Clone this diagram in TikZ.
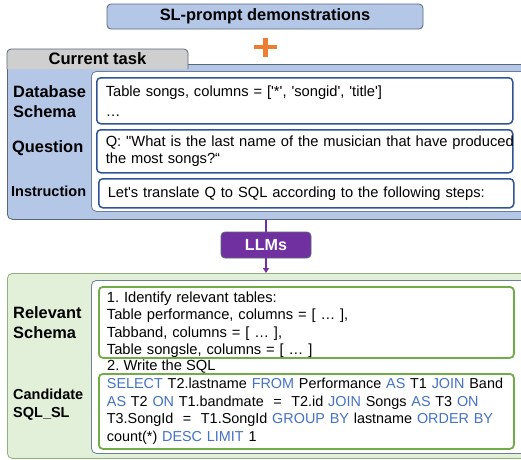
\documentclass[tikz,border=0pt]{standalone}
\usepackage{fontspec}
\setmainfont{Liberation Sans}[Ligatures=TeXOff]
\usetikzlibrary{arrows.meta}
\definecolor{bluefill}{HTML}{B4C7E7}
\definecolor{blueborder}{HTML}{2F5597}
\definecolor{grayborder}{HTML}{5B6778}
\definecolor{innerborder}{HTML}{6D7E99}
\definecolor{orangeplus}{HTML}{ED7D31}
\definecolor{purplefill}{HTML}{7030A0}
\definecolor{greenfill}{HTML}{E2F0D9}
\definecolor{greenframe}{HTML}{8FB07A}
\definecolor{greenborder}{HTML}{70AD47}
\definecolor{kw}{HTML}{4472C4}
\newcommand{\kwd}[1]{\textcolor{kw}{#1}}
\frenchspacing
\hbadness=10000 \hfuzz=100pt
\begin{document}
\begin{tikzpicture}[x=1pt,y=-1pt,
  body/.style={font=\fontsize{14.7}{17.4}\selectfont},
  lbl/.style={font=\bfseries\fontsize{16.4}{20}\selectfont, align=left, anchor=west, inner sep=0pt},
  lblsmall/.style={font=\bfseries\fontsize{14.5}{18}\selectfont, align=left, anchor=west, inner sep=0pt},
  bluebox/.style={draw=blueborder, line width=1.5pt, fill=white, rounded corners=4pt, anchor=north west, align=left, body, inner xsep=9pt, inner ysep=0pt},
  greenbox/.style={draw=greenborder, line width=1.8pt, fill=white, rounded corners=4pt, anchor=north west, align=left, body, inner xsep=8pt, inner ysep=0pt},
  panel/.style={rounded corners=5pt, anchor=north west, inner sep=0pt, line width=0.8pt},
]
\useasboundingbox (0,0) rectangle (521,459);
\clip (0,0) rectangle (521,459);
\fill[white] (0,0) rectangle (521,459);

% top demonstrations box
\node[draw=grayborder, fill=bluefill, rounded corners=4pt, line width=0.8pt,
      minimum width=316pt, minimum height=25pt, inner sep=0pt,
      font=\bfseries\fontsize{16.4}{18}\selectfont] (demo) at (265,16.5) {SL-prompt demonstrations};

% orange plus
\coordinate (plus) at (265.5,47);
\draw[orangeplus, line width=4.5pt] ([xshift=-11.5pt]plus) -- ([xshift=11.5pt]plus);
\draw[orangeplus, line width=4.5pt] ([yshift=9.5pt]plus) -- ([yshift=-9.5pt]plus);

% current task panel
\node[panel, draw=grayborder, fill=bluefill, minimum width=530pt, minimum height=155pt] (task) at (7,64) {};
\draw[grayborder, line width=0.8pt, fill=black!19, rounded corners=4pt]
  (7,69) -- (7,49) -- (188,49) -- (188,69);
\node[font=\bfseries\fontsize{16.6}{18}\selectfont, inner sep=0pt] (tab) at (97.5,59) {Current task};
\node[panel, draw=innerborder, fill=white, minimum width=440pt, minimum height=140pt] (taskin) at (91,71) {};

\node[bluebox, text width=398pt, minimum height=46pt] (schema) at (96,77)
  {\mbox{Table songs, columns = ['*', 'songid', 'title']}\\[2.5pt]…};
\node[bluebox, text width=398pt, minimum height=43pt] (question) at (96,129)
  {\mbox{Q: "What is the last name of the musician that have produced}\\\mbox{the most songs?“}};
\node[bluebox, text width=397pt, minimum height=29pt] (instr) at (98,178)
  {\mbox{Let's translate Q to SQL according to the following steps:}};

\node[lbl] (lschema) at (13,102) {Database\\Schema};
\node[lbl] (lquestion) at (12,148) {Question};
\node[lblsmall] (linstr) at (11,191) {Instruction};

% LLMs
\node[draw=grayborder, fill=purplefill, rounded corners=4pt, line width=0.8pt,
      minimum width=90pt, minimum height=26pt, inner sep=0pt, text=white,
      font=\bfseries\fontsize{16.1}{18}\selectfont] (llm) at (266,245) {LLMs};

% output panel
\node[panel, draw=greenframe, fill=greenfill, minimum width=530pt, minimum height=185pt] (out) at (7,273) {};
\node[panel, draw=innerborder, fill=white, minimum width=440pt, minimum height=173pt] (outin) at (91,280) {};

\draw[purplefill, line width=1.6pt] (llm.north |- task.south) -- (llm.north);
\draw[purplefill, line width=1.6pt, -{Triangle[length=5pt,width=6pt]}] (llm.south) -- (llm.south |- out.north);

\node[greenbox, text width=399pt, minimum height=71pt] (relev) at (98,286)
  {\rule{0pt}{15pt}1. Identify relevant tables:\\Table performance, columns = [ … ],\\Tabband, columns = [ … ],\\Table songsle, columns = [ … ]};
\node[body, anchor=west, inner sep=0pt] (write) at (107,367) {2. Write the SQL};
\node[greenbox, text width=399pt, minimum height=75pt, font=\fontsize{14.4}{17.5}\selectfont] (sql) at (98,373)
  {\mbox{\kwd{SELECT} T2.lastname \kwd{FROM} Performance \kwd{AS} T1 \kwd{JOIN} Band}\\
   \mbox{\kwd{AS} T2 \kwd{ON} T1.bandmate\ \ =\ \ T2.id \kwd{JOIN} Songs \kwd{AS} T3 \kwd{ON}}\\
   \mbox{T3.SongId\ \ =\ \ T1.SongId \kwd{GROUP BY} lastname \kwd{ORDER BY}}\\
   \mbox{count(*) \kwd{DESC LIMIT} 1}};

\node[lbl] (lrel) at (13,323) {Relevant\\Schema};
\node[lblsmall] (lcand) at (13,405) {Candidate\\SQL\_SL};
\end{tikzpicture}
\end{document}
